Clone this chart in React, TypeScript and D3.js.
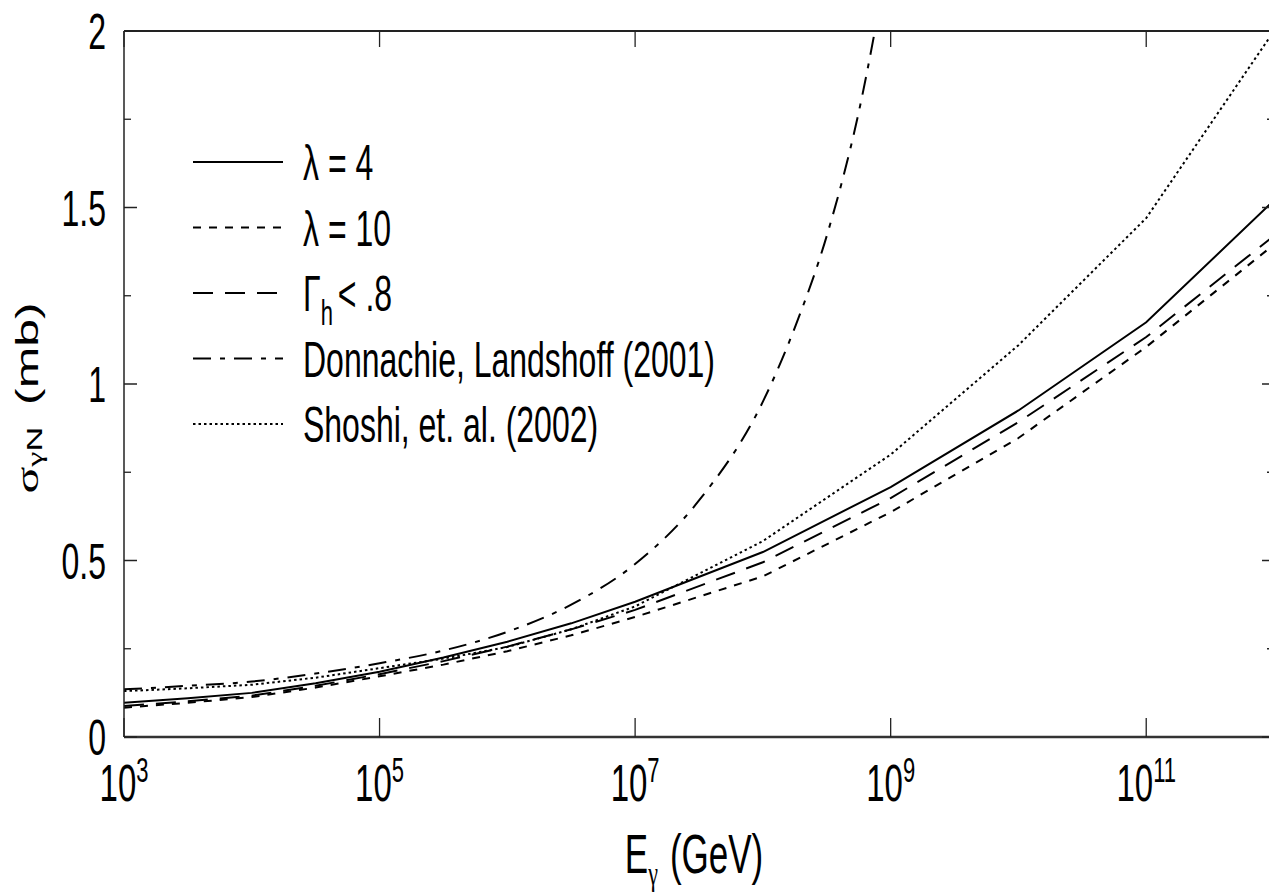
import React from "react";
import * as d3 from "d3";

// ---- data (log10 of photon energy in GeV, cross-section in mb) ----
const LOGE_FULL = [3, 3.5, 4, 4.5, 5, 5.5, 6, 6.5, 7, 8, 9, 10, 11, 12];
const LAMBDA4 = [0.097, 0.11, 0.125, 0.152, 0.185, 0.225, 0.27, 0.322, 0.383, 0.524, 0.708, 0.925, 1.175, 1.52];
const LAMBDA10 = [0.083, 0.097, 0.113, 0.14, 0.172, 0.205, 0.243, 0.288, 0.34, 0.455, 0.637, 0.847, 1.105, 1.395];
const GAMMA_H = [0.088, 0.101, 0.117, 0.145, 0.178, 0.215, 0.256, 0.305, 0.36, 0.495, 0.677, 0.892, 1.133, 1.42];
const SHOSHI = [0.13, 0.138, 0.148, 0.168, 0.195, 0.222, 0.255, 0.305, 0.37, 0.555, 0.8, 1.11, 1.47, 2.0];
const LOGE_DL = [3, 3.5, 4, 4.5, 5, 5.5, 6, 6.5, 7, 7.5, 8, 8.25, 8.5, 8.75, 9];
const DONNACHIE = [0.135, 0.145, 0.157, 0.18, 0.209, 0.245, 0.298, 0.375, 0.49, 0.67, 0.95, 1.16, 1.42, 1.77, 2.25];

const X_TICK_EXP = [3, 5, 7, 9, 11];
const Y_MAJOR = [0, 0.5, 1, 1.5, 2];
const Y_MINOR = [0.25, 0.75, 1.25, 1.75];
const Y_LABELS = ["0", "0.5", "1", "1.5", "2"];

const LEGEND = [
  { key: "l4", dash: "none" },
  { key: "l10", dash: "8,8" },
  { key: "gh", dash: "20,12" },
  { key: "dl", dash: "18,9,5,9" },
  { key: "sh", dash: "2.5,3" },
];

const W = 1269;
const H = 895;
const L = 124, R = 1274, T = 31, B = 737;
const SY = 1.56;
const FONT = "'Liberation Sans', Arial, Helvetica, sans-serif";
const SERIF = "'Liberation Serif', 'DejaVu Serif', serif";

function SText(props: any) {
  const { x, y, anchor = "start", size = 32, children } = props;
  return (
    <g transform={`translate(${x},${y}) scale(1,${SY})`}>
      <text textAnchor={anchor} fontSize={size} fontFamily={FONT} fill="#000">
        {children}
      </text>
    </g>
  );
}

export default function App() {
  const x = d3.scaleLog().domain([1e3, 1e12]).range([L, R]);
  const y = d3.scaleLinear().domain([0, 2]).range([B, T]);
  const mk = (le: number[], vals: number[], curve: any) =>
    d3
      .line<number>()
      .x((_, i) => x(Math.pow(10, le[i])))
      .y((v) => y(v))
      .curve(curve)(vals) || "";

  const series = [
    { d: mk(LOGE_FULL, LAMBDA4, d3.curveLinear), dash: "none" },
    { d: mk(LOGE_FULL, LAMBDA10, d3.curveLinear), dash: "8,8" },
    { d: mk(LOGE_FULL, GAMMA_H, d3.curveLinear), dash: "20,12" },
    { d: mk(LOGE_DL, DONNACHIE, d3.curveMonotoneX), dash: "18,9,5,9" },
    { d: mk(LOGE_FULL, SHOSHI, d3.curveLinear), dash: "2.5,3" },
  ];

  const legendY0 = 162;
  const legendStep = 65.5;

  const legendText = [
    <>λ = 4</>,
    <>λ = 10</>,
    <>
      Γ<tspan fontSize={22} dy={9}>h</tspan>
      <tspan dy={-9} dx={5}>&lt; .8</tspan>
    </>,
    <>Donnachie, Landshoff (2001)</>,
    <>Shoshi, et. al. (2002)</>,
  ];

  return (
    <svg
      width={W}
      height={H}
      style={{ position: "absolute", left: 0, top: 0, background: "#fff" }}
    >
      <defs>
        <clipPath id="plotclip">
          <rect x={L} y={T} width={R - L} height={B - T} />
        </clipPath>
      </defs>
      <rect x={0} y={0} width={W} height={H} fill="#fff" />

      {/* curves */}
      <g clipPath="url(#plotclip)">
        {series.map((s, i) => (
          <path
            key={i}
            d={s.d}
            fill="none"
            stroke="#000"
            strokeWidth={2}
            strokeDasharray={s.dash === "none" ? undefined : s.dash}
          />
        ))}
      </g>

      {/* frame */}
      <line x1={L} x2={R} y1={T} y2={T} stroke="#222" strokeWidth={2.2} />
      <line x1={L} x2={R} y1={B} y2={B} stroke="#333" strokeWidth={2.6} />
      <line x1={L} x2={L} y1={T} y2={B} stroke="#222" strokeWidth={1.5} />
      <line x1={R} x2={R} y1={T} y2={B} stroke="#222" strokeWidth={1.5} />

      {/* x ticks */}
      {X_TICK_EXP.map((e) => {
        const px = x(Math.pow(10, e));
        return (
          <g key={e}>
            <line x1={px} x2={px} y1={B} y2={B - 19} stroke="#222" strokeWidth={1.3} />
            <line x1={px} x2={px} y1={T} y2={T + 16} stroke="#222" strokeWidth={1.3} />
            <SText x={px} y={801} anchor="middle" size={33}>
              10<tspan fontSize={22} dy={-12}>{e}</tspan>
            </SText>
          </g>
        );
      })}

      {/* y ticks */}
      {Y_MAJOR.map((v, i) => {
        const py = y(v);
        return (
          <g key={v}>
            <line x1={L} x2={L + 13} y1={py} y2={py} stroke="#222" strokeWidth={1.5} />
            <line x1={R} x2={R - 12} y1={py} y2={py} stroke="#222" strokeWidth={1.5} />
            <SText x={106} y={py + 18} anchor="end" size={32}>
              {Y_LABELS[i]}
            </SText>
          </g>
        );
      })}
      {Y_MINOR.map((v) => {
        const py = y(v);
        return (
          <g key={v}>
            <line x1={L} x2={L + 7} y1={py} y2={py} stroke="#222" strokeWidth={1.3} />
            <line x1={R} x2={R - 7} y1={py} y2={py} stroke="#222" strokeWidth={1.3} />
          </g>
        );
      })}

      {/* axis titles */}
      <SText x={694} y={873} anchor="middle" size={35}>
        E<tspan fontSize={22} dy={8} fontFamily={SERIF}>γ</tspan>
        <tspan dy={-8} dx={12}>(GeV)</tspan>
      </SText>
      <g transform={`translate(38,398) scale(1,${SY}) rotate(-90)`}>
        <text textAnchor="middle" fontSize={32} fontFamily={FONT} fill="#000">
          <tspan fontFamily={SERIF}>σ</tspan>
          <tspan fontSize={22} dy={4} fontFamily={SERIF}>γ</tspan>
          <tspan fontSize={22}>N</tspan>
          <tspan dy={-4} dx={14}>(mb)</tspan>
        </text>
      </g>

      {/* legend */}
      {LEGEND.map((lg, i) => {
        const ly = legendY0 + i * legendStep;
        return (
          <g key={lg.key}>
            <line
              x1={193}
              x2={283}
              y1={ly}
              y2={ly}
              stroke="#000"
              strokeWidth={2}
              strokeDasharray={lg.dash === "none" ? undefined : lg.dash}
            />
            <SText x={303} y={ly + 18} size={32}>
              {legendText[i]}
            </SText>
          </g>
        );
      })}
    </svg>
  );
}
